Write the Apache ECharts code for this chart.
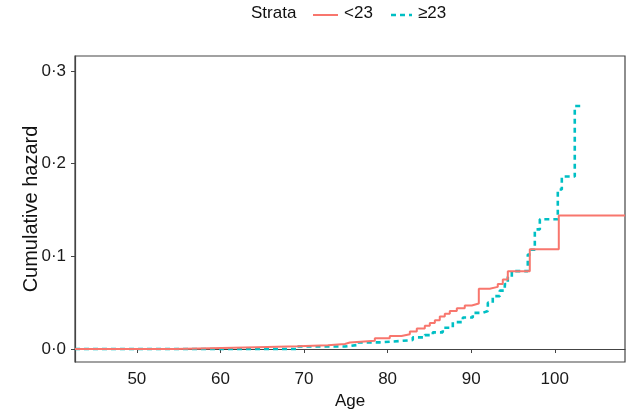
<!DOCTYPE html>
<html><head><meta charset="utf-8">
<script src="https://cdn.jsdelivr.net/npm/echarts@6/dist/echarts.min.js"></script>
<style>html,body{margin:0;padding:0;background:#fff}#c{width:627px;height:415px}</style>
</head><body><div id="c"></div>
<script>
// Strata <23 : step points [age, cumulative hazard]
const lowAges = [42.6, 54.55, 64.35, 69.26, 72.85, 74.88, 75.48, 78.47, 80.26, 81.66, 82.66, 83.49, 84.45, 85.05, 85.65, 86.24, 86.84, 87.44, 88.28, 89.23, 90.07, 90.91, 92.22, 93.18, 93.78, 94.38, 97.01, 100.48, 108.4];
const lowHaz  = [0, 0.002, 0.003, 0.004, 0.0054, 0.007, 0.009, 0.0115, 0.014, 0.016, 0.019, 0.022, 0.025, 0.028, 0.031, 0.035, 0.038, 0.041, 0.044, 0.047, 0.049, 0.065, 0.067, 0.070, 0.075, 0.084, 0.1075, 0.144, 0.144];
// Strata >=23
const highAges = [42.6, 69.14, 74.88, 76.32, 79.07, 81.46, 83.01, 84.45, 85.41, 86.60, 87.80, 89.00, 90.19, 91.39, 91.99, 92.58, 93.42, 94.02, 94.38, 94.86, 96.77, 97.13, 97.61, 98.21, 100.36, 100.84, 102.39, 103.35];
const highHaz  = [0, 0.0027, 0.0043, 0.0072, 0.0086, 0.0097, 0.0126, 0.015, 0.018, 0.023, 0.029, 0.034, 0.039, 0.041, 0.050, 0.057, 0.063, 0.070, 0.078, 0.084, 0.102, 0.107, 0.129, 0.140, 0.172, 0.186, 0.262, 0.262];
const xTicks = [50, 60, 70, 80, 90, 100];
const yTicks = [0, 0.1, 0.2, 0.3];
const seriesNames = ['<23', '≥23'];
const colors = ['#F8766D', '#00BFC4'];

const zip = (a, b) => a.map((v, i) => [v, b[i]]);
const chart = echarts.init(document.getElementById('c'), null, {renderer: 'canvas'});
const font = 'Liberation Sans, Arial, sans-serif';
const txt = (x, t) => ({type: 'text', left: x, top: 5, style: {text: t, font: '17px ' + font, fill: '#111'}});
chart.setOption({
  animation: false,
  backgroundColor: '#fff',
  grid: {left: 75, right: 2, top: 56, bottom: 52, show: true, borderColor: '#444', borderWidth: 1.2},
  graphic: [
    txt(251, 'Strata'),
    {type: 'line', shape: {x1: 313, y1: 15, x2: 338, y2: 15}, style: {stroke: colors[0], lineWidth: 2}},
    txt(344, seriesNames[0]),
    {type: 'line', shape: {x1: 391, y1: 15, x2: 412, y2: 15}, style: {stroke: colors[1], lineWidth: 2.6, lineDash: [5, 4]}},
    txt(418, seriesNames[1])
  ],
  xAxis: {
    type: 'value', min: 42.6, max: 108.4,
    name: 'Age', nameLocation: 'middle', nameGap: 31, nameMoveOverlap: false,
    nameTextStyle: {fontFamily: font, fontSize: 17, color: '#111'},
    axisLine: {show: true, lineStyle: {color: '#444', width: 1.2}},
    axisTick: {show: true, length: 4, lineStyle: {color: '#444'}, customValues: xTicks},
    axisLabel: {fontFamily: font, fontSize: 17, color: '#1a1a1a', margin: 9,
      customValues: xTicks},
    splitLine: {show: false}
  },
  yAxis: {
    type: 'value', min: -0.014, max: 0.316,
    name: 'Cumulative hazard', nameLocation: 'middle', nameGap: 34, nameMoveOverlap: false,
    nameTextStyle: {fontFamily: font, fontSize: 20, color: '#111'},
    axisLine: {show: true, lineStyle: {color: '#444', width: 1.2}},
    axisTick: {show: true, length: 4, lineStyle: {color: '#444'}, customValues: yTicks},
    axisLabel: {fontFamily: font, fontSize: 17, color: '#1a1a1a', margin: 9,
      customValues: yTicks, formatter: v => v.toFixed(1).replace('.', '·')},
    splitLine: {show: false}
  },
  series: [
    {name: seriesNames[0], type: 'line', step: 'end', showSymbol: false, symbol: 'none',
     data: zip(lowAges, lowHaz), z: 3,
     lineStyle: {color: colors[0], width: 2}, itemStyle: {color: colors[0]}},
    {name: seriesNames[1], type: 'line', step: 'end', showSymbol: false, symbol: 'none',
     data: zip(highAges, highHaz), z: 2,
     lineStyle: {color: colors[1], width: 2.6, type: [5, 4]}, itemStyle: {color: colors[1]}}
  ]
});
</script></body></html>
